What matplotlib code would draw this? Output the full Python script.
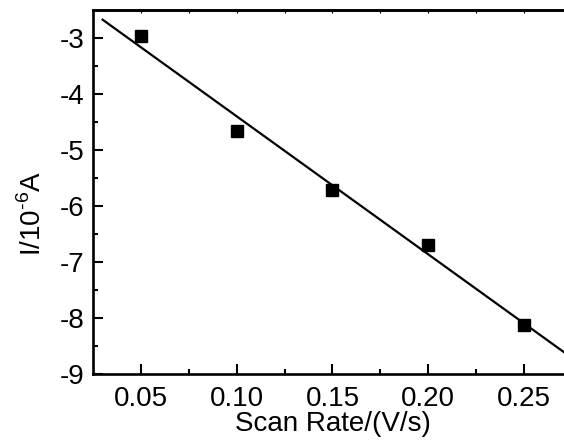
import numpy as np
import matplotlib
matplotlib.use('Agg')
import matplotlib.pyplot as plt

plt.rcParams['font.family'] = ['Liberation Sans', 'DejaVu Sans']
plt.rcParams['mathtext.fontset'] = 'custom'
plt.rcParams['mathtext.rm'] = 'Liberation Sans'

scan_rate = [0.05, 0.10, 0.15, 0.20, 0.25]
current = [-2.97, -4.66, -5.71, -6.69, -8.12]
x_ticks = [0.05, 0.10, 0.15, 0.20, 0.25]
y_ticks = [-9, -8, -7, -6, -5, -4, -3]

slope, intercept = np.polyfit(scan_rate, current, 1)
fit_x = np.array([0.03, 0.29])
fit_y = slope * fit_x + intercept

fig = plt.figure(figsize=(5.64, 4.41), dpi=100)
ax = fig.add_axes([0.165, 0.152, 0.849, 0.825])

ax.plot(fit_x, fit_y, color='k', linewidth=1.6)
ax.plot(scan_rate, current, 's', color='k', markersize=9)

ax.set_xlim(0.025, 0.275)
ax.set_ylim(-9, -2.5)
ax.set_xticks(x_ticks)
ax.set_xticklabels(['{:.2f}'.format(v) for v in x_ticks])
ax.set_yticks(y_ticks)
ax.set_yticklabels([str(v) for v in y_ticks])
ax.set_xticks(np.arange(0.075, 0.275, 0.05), minor=True)
ax.set_yticks(np.arange(-8.5, -2.5, 1.0), minor=True)

for s in ax.spines.values():
    s.set_linewidth(1.9)

ax.tick_params(which='major', direction='in', length=7, width=1.5, labelsize=20)
ax.tick_params(which='minor', direction='in', length=3.5, width=1.5)
ax.tick_params(axis='x', which='major', pad=9)
ax.tick_params(axis='y', which='major', pad=6)

# small ticks along the top edge
top = ax.secondary_xaxis('top')
top.set_xticks(list(np.arange(0.05, 0.275, 0.025)))
top.tick_params(direction='in', length=2, width=0.8, labeltop=False)
top.spines['top'].set_linewidth(1.9)

ax.set_xlabel('Scan Rate/(V/s)', fontsize=20, labelpad=-1)
ax.set_ylabel(r'I/10$^{\text{-6}}$A', fontsize=20)
ax.yaxis.set_label_coords(-0.097, 0.44)

fig.savefig('out.png', dpi=100)
